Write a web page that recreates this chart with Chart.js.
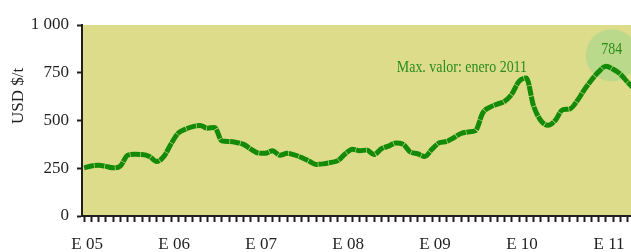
<!DOCTYPE html>
<html>
<head>
<meta charset="utf-8">
<script src="https://cdn.jsdelivr.net/npm/chart.js@4.4.1/dist/chart.umd.min.js"></script>
<style>
  html, body { margin: 0; padding: 0; background: #ffffff; }
  #wrap { width: 631px; height: 252px; position: relative; }
</style>
</head>
<body>
<div id="wrap"><canvas id="c" width="631" height="252"></canvas></div>
<script>
// Monthly price, USD $/t, starting January 2005 (index 0)
const prices = [
  252, 262, 266, 260, 252, 262, 318, 323, 322, 312, 285, 312,
  378, 435, 455, 468, 474, 460, 464, 393, 390, 385, 375, 350,
  330, 328, 342, 318, 328, 320, 306, 288, 270, 273, 280, 290,
  325, 350, 342, 345, 322, 352, 366, 382, 376, 335, 326, 312,
  350, 383, 390, 410, 432, 440, 447, 540, 570, 586, 600, 638,
  705, 722, 578, 500, 475, 500, 556, 560, 602, 660, 712, 756,
  784, 768, 742, 700, 662
];
const yearLabels = ["E 05", "E 06", "E 07", "E 08", "E 09", "E 10", "E 11"];
const yTicks = [0, 250, 500, 750, 1000];
const maxIndex = 72;           // enero 2011
const maxValue = 784;
const maxText = "Max. valor: enero 2011";
const yTitle = "USD $/t";

const points = prices.map((v, i) => ({ x: i, y: v }));

const INK = '#231f20';
const GREEN = '#138a08';
const TEXT_GREEN = '#2a8c1c';
const SERIF = '"Liberation Serif", "DejaVu Serif", serif';

const decor = {
  id: 'decor',
  beforeDraw(chart) {
    const { ctx, chartArea: a } = chart;
    ctx.save();
    ctx.fillStyle = '#dcdc8b';
    ctx.fillRect(a.left, a.top, a.right - a.left, a.bottom - a.top);
    ctx.restore();
  },
  beforeDatasetsDraw(chart) {
    const { ctx } = chart;
    const xs = chart.scales.x, ys = chart.scales.y;
    const cx = xs.getPixelForValue(maxIndex + 0.8);
    const cy = ys.getPixelForValue(maxValue + 58);
    ctx.save();
    ctx.beginPath();
    ctx.arc(cx, cy, 26, 0, Math.PI * 2);
    ctx.fillStyle = '#bad98a';
    ctx.fill();
    ctx.restore();
  },
  afterDatasetsDraw(chart) {
    const { ctx } = chart;
    const xs = chart.scales.x, ys = chart.scales.y;
    ctx.save();
    ctx.fillStyle = TEXT_GREEN;
    ctx.font = '16px ' + SERIF;
    ctx.textBaseline = 'middle';
    let x = xs.getPixelForValue(maxIndex + 0.8);
    let y = ys.getPixelForValue(maxValue + 85);
    ctx.save();
    ctx.translate(x, y);
    ctx.scale(0.87, 1);
    ctx.textAlign = 'center';
    ctx.fillText(String(maxValue), 0, 0);
    ctx.restore();
    x = xs.getPixelForValue(61.1);
    y = ys.getPixelForValue(775);
    ctx.save();
    ctx.translate(x, y);
    ctx.scale(0.87, 1);
    ctx.textAlign = 'right';
    ctx.fillText(maxText, 0, 0);
    ctx.restore();
    ctx.restore();
  },
  afterDraw(chart) {
    const { ctx } = chart;
    ctx.save();
    ctx.fillStyle = INK;
    ctx.font = '17px ' + SERIF;
    ctx.textAlign = 'center';
    ctx.textBaseline = 'middle';
    ctx.translate(19, 96);
    ctx.rotate(-Math.PI / 2);
    ctx.fillText(yTitle, 0, 0);
    ctx.restore();
  }
};

new Chart(document.getElementById('c'), {
  type: 'line',
  data: {
    datasets: [{
      data: points,
      borderColor: GREEN,
      borderWidth: 5,
      borderDash: [10, 0.6],
      borderCapStyle: 'butt',
      pointRadius: 0,
      cubicInterpolationMode: 'monotone',
      fill: false
    }]
  },
  options: {
    responsive: false,
    animation: false,
    events: [],
    layout: { padding: { top: 25, right: 0, bottom: 0, left: 0 } },
    plugins: { legend: { display: false }, tooltip: { enabled: false } },
    scales: {
      x: {
        type: 'linear',
        min: -0.3,
        max: 75.45,
        afterFit(scale) { scale.height = 36; scale.paddingRight = 0; scale.paddingLeft = 0; },
        border: { display: true, color: INK, width: 2 },
        grid: { drawOnChartArea: false, drawTicks: true, tickLength: 6, tickColor: INK, tickWidth: 2 },
        ticks: {
          stepSize: 1,
          autoSkip: false,
          includeBounds: false,
          maxRotation: 0,
          padding: 12,
          labelOffset: 3,
          color: INK,
          font: { family: SERIF, size: 17 },
          callback: (v) => (Number.isInteger(v) && v % 12 === 0 && v / 12 < yearLabels.length) ? yearLabels[v / 12] : ''
        }
      },
      y: {
        min: 0,
        max: 1000,
        afterFit(scale) { scale.width = 82; },
        afterBuildTicks(scale) { scale.ticks = yTicks.map(v => ({ value: v })); },
        border: { display: true, color: INK, width: 2 },
        grid: { drawOnChartArea: false, drawTicks: true, tickLength: 5, tickColor: INK, tickWidth: 2 },
        ticks: {
          padding: 8,
          color: INK,
          font: { family: SERIF, size: 17 },
          callback: (v) => v === 1000 ? '1 000' : String(v)
        }
      }
    }
  },
  plugins: [decor]
});
</script>
</body>
</html>
